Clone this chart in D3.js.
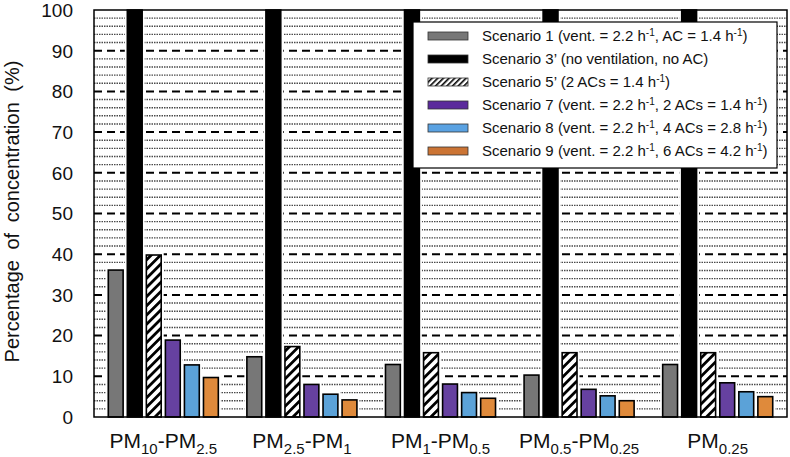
<!DOCTYPE html>
<html>
<head>
<meta charset="utf-8">
<script src="https://cdn.jsdelivr.net/npm/d3@7"></script>
<style>
  body { margin: 0; background: #fff; }
  text { font-family: "Liberation Sans", Arial, sans-serif; }
</style>
</head>
<body>
<div id="chart"></div>
<script>
const width = 790;
const height = 457;
const margin = {top: 10, right: 3, bottom: 40, left: 94};

// category labels, split into [text, kind] pieces for the subscripts
const categories = ["PM10-PM2.5", "PM2.5-PM1", "PM1-PM0.5", "PM0.5-PM0.25", "PM0.25"];
const categoryParts = [
    [["PM", ""], ["10", "sub"], ["-PM", ""], ["2.5", "sub"]],
    [["PM", ""], ["2.5", "sub"], ["-PM", ""], ["1", "sub"]],
    [["PM", ""], ["1", "sub"], ["-PM", ""], ["0.5", "sub"]],
    [["PM", ""], ["0.5", "sub"], ["-PM", ""], ["0.25", "sub"]],
    [["PM", ""], ["0.25", "sub"]]
];

const seriesNames = ["s1", "s3", "s5", "s7", "s8", "s9"];
const scenario1 = [36.1, 14.8, 12.9, 10.3, 12.9];
const scenario3 = [100, 100, 100, 100, 100];
const scenario5 = [39.8, 17.3, 15.8, 15.8, 15.8];
const scenario7 = [18.9, 8.0, 8.1, 6.8, 8.4];
const scenario8 = [12.8, 5.6, 6.0, 5.2, 6.2];
const scenario9 = [9.7, 4.2, 4.6, 4.0, 5.0];
const seriesValues = [scenario1, scenario3, scenario5, scenario7, scenario8, scenario9];

const legendLabels = [
    [["Scenario 1 (vent. = 2.2 h", ""], ["-1", "sup"], [", AC = 1.4 h", ""], ["-1", "sup"], [")", ""]],
    [["Scenario 3’ (no ventilation, no AC)", ""]],
    [["Scenario 5’ (2 ACs = 1.4 h", ""], ["-1", "sup"], [")", ""]],
    [["Scenario 7 (vent. = 2.2 h", ""], ["-1", "sup"], [", 2 ACs = 1.4 h", ""], ["-1", "sup"], [")", ""]],
    [["Scenario 8 (vent. = 2.2 h", ""], ["-1", "sup"], [", 4 ACs = 2.8 h", ""], ["-1", "sup"], [")", ""]],
    [["Scenario 9 (vent. = 2.2 h", ""], ["-1", "sup"], [", 6 ACs = 4.2 h", ""], ["-1", "sup"], [")", ""]]
];

const yMajorTicks = [0, 10, 20, 30, 40, 50, 60, 70, 80, 90, 100];

const fills = ["#777777", "#000000", "url(#hatch)", "#6641a0", "#5ba2d8", "#df8a3b"];
const legendFills = ["#777777", "#000000", "url(#hatchSmall)", "#5b2a9c", "#5aa2e2", "#cb7434"];

const svg = d3.select("#chart").append("svg")
    .attr("width", width)
    .attr("height", height);

const defs = svg.append("defs");
const hatch = defs.append("pattern")
    .attr("id", "hatch")
    .attr("patternUnits", "userSpaceOnUse")
    .attr("width", 6.5)
    .attr("height", 6.5)
    .attr("patternTransform", "rotate(45)");
hatch.append("rect").attr("width", 6.5).attr("height", 6.5).attr("fill", "#fff");
hatch.append("rect").attr("width", 2.8).attr("height", 6.5).attr("fill", "#000");

const hatchSmall = defs.append("pattern")
    .attr("id", "hatchSmall")
    .attr("patternUnits", "userSpaceOnUse")
    .attr("width", 4)
    .attr("height", 4)
    .attr("patternTransform", "rotate(45)");
hatchSmall.append("rect").attr("width", 4).attr("height", 4).attr("fill", "#fff");
hatchSmall.append("rect").attr("width", 1.6).attr("height", 4).attr("fill", "#000");

const x = d3.scaleBand()
    .domain(categories)
    .range([margin.left, width - margin.right])
    .padding(0);

const xInner = d3.scaleBand()
    .domain(seriesNames)
    .range([0, x.bandwidth()])
    .paddingInner(0.22)
    .paddingOuter(0.75);

const y = d3.scaleLinear()
    .domain([0, 100])
    .range([height - margin.bottom, margin.top]);

// minor gridlines
const minorTicks = d3.range(2, 100, 2).filter(v => v % 10 !== 0);
svg.append("g")
    .selectAll("line")
    .data(minorTicks)
    .join("line")
    .attr("x1", margin.left)
    .attr("x2", width - margin.right)
    .attr("y1", d => y(d))
    .attr("y2", d => y(d))
    .attr("stroke", "#4a4a4a")
    .attr("stroke-width", 1.4)
    .attr("stroke-dasharray", "1.5,1");

// major dashed gridlines
svg.append("g")
    .selectAll("line")
    .data(yMajorTicks.filter(v => v > 0 && v < 100))
    .join("line")
    .attr("x1", margin.left)
    .attr("x2", width - margin.right)
    .attr("y1", d => y(d))
    .attr("y2", d => y(d))
    .attr("stroke", "#000")
    .attr("stroke-width", 2)
    .attr("stroke-dasharray", "8,5");

// bars
const barData = [];
categories.forEach((c, i) => {
    seriesNames.forEach((s, j) => {
        barData.push({cat: c, series: s, idx: j, value: seriesValues[j][i]});
    });
});

const bars = svg.append("g");
// white halo around each bar
bars.selectAll("rect.halo")
    .data(barData)
    .join("rect")
    .attr("class", "halo")
    .attr("x", d => x(d.cat) + xInner(d.series))
    .attr("y", d => y(d.value))
    .attr("width", xInner.bandwidth())
    .attr("height", d => y(0) - y(d.value))
    .attr("fill", "#fff")
    .attr("stroke", "#fff")
    .attr("stroke-width", 5);

bars.selectAll("rect.bar")
    .data(barData)
    .join("rect")
    .attr("class", "bar")
    .attr("x", d => x(d.cat) + xInner(d.series))
    .attr("y", d => y(d.value))
    .attr("width", xInner.bandwidth())
    .attr("height", d => y(0) - y(d.value))
    .attr("fill", d => fills[d.idx])
    .attr("stroke", "#000")
    .attr("stroke-width", 1.6);

// frame
svg.append("rect")
    .attr("x", margin.left)
    .attr("y", margin.top)
    .attr("width", width - margin.left - margin.right)
    .attr("height", height - margin.top - margin.bottom)
    .attr("fill", "none")
    .attr("stroke", "#000")
    .attr("stroke-width", 1.5);

// y tick labels
svg.append("g")
    .selectAll("text")
    .data(yMajorTicks)
    .join("text")
    .attr("x", margin.left - 21)
    .attr("y", d => y(d))
    .attr("dy", "0.36em")
    .attr("text-anchor", "end")
    .attr("font-size", "19px")
    .attr("fill", "#111")
    .text(d => d);

// y title
svg.append("text")
    .attr("transform", `translate(19,${(y(0) + y(100)) / 2 - 2}) rotate(-90)`)
    .attr("text-anchor", "middle")
    .attr("font-size", "20px")
    .attr("fill", "#111")
    .attr("word-spacing", "5px")
    .text("Percentage of concentration (%)");

// x labels
const xLabels = svg.append("g")
    .selectAll("text")
    .data(categories)
    .join("text")
    .attr("x", d => x(d) + x.bandwidth() / 2)
    .attr("y", 448)
    .attr("text-anchor", "middle")
    .attr("font-size", "21px")
    .attr("fill", "#111");

xLabels.each(function(d, i) {
    const t = d3.select(this);
    categoryParts[i].forEach(([txt, kind], k) => {
        const sp = t.append("tspan").text(txt);
        if (kind === "sub") sp.attr("font-size", "15px").attr("dy", 6);
        else if (k > 0) sp.attr("dy", -6);
    });
});

// legend
const legend = svg.append("g");
legend.append("rect")
    .attr("x", 413)
    .attr("y", 22)
    .attr("width", 364)
    .attr("height", 146)
    .attr("fill", "#fff")
    .attr("stroke", "#000")
    .attr("stroke-width", 1.2);

const rowY = i => 36 + i * 23;

legend.selectAll("rect.sw")
    .data(legendLabels)
    .join("rect")
    .attr("class", "sw")
    .attr("x", 428)
    .attr("y", (d, i) => rowY(i) - 4)
    .attr("width", 40)
    .attr("height", 8)
    .attr("fill", (d, i) => legendFills[i])
    .attr("stroke", "#333")
    .attr("stroke-width", 0.8);

legend.selectAll("text")
    .data(legendLabels)
    .join("text")
    .attr("x", 482)
    .attr("y", (d, i) => rowY(i) + 5)
    .attr("font-size", "15px")
    .attr("fill", "#111")
    .each(function(parts) {
        const t = d3.select(this);
        parts.forEach(([txt, kind], k) => {
            const sp = t.append("tspan").text(txt);
            if (kind === "sup") sp.attr("font-size", "10px").attr("dy", -5);
            else if (k > 0 && parts[k - 1][1] === "sup") sp.attr("dy", 5);
        });
    });
</script>
</body>
</html>
